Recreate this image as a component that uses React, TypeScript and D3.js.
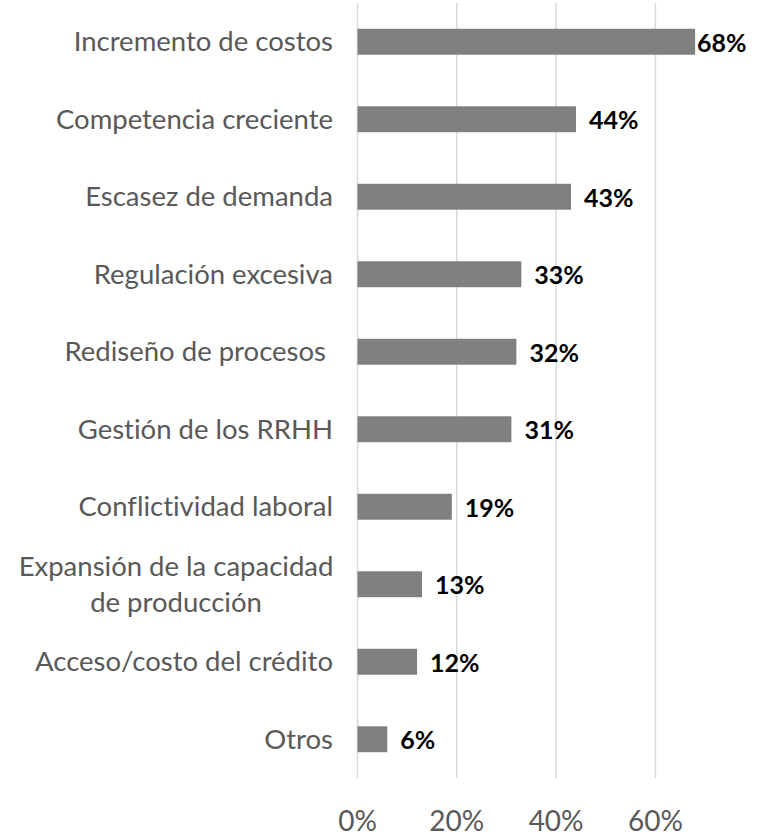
import React from "react";
import * as d3 from "d3";

const categories = [
  "Incremento de costos",
  "Competencia creciente",
  "Escasez de demanda",
  "Regulación excesiva",
  "Rediseño de procesos ",
  "Gestión de los RRHH",
  "Conflictividad laboral",
  "Expansión de la capacidad\nde producción",
  "Acceso/costo del crédito",
  "Otros",
];
const values = [0.68, 0.44, 0.43, 0.33, 0.32, 0.31, 0.19, 0.13, 0.12, 0.06];
const tickValues = [0, 0.2, 0.4, 0.6];

const W = 768;
const H = 837;
const plotLeft = 357.5;
const plotTop = 3;
const plotBottom = 778;
const labelRight = 748;

export default function App() {
  const x = d3.scaleLinear().domain([0, 0.2]).range([plotLeft, plotLeft + 99.3]);
  const y = d3
    .scaleBand<number>()
    .domain(d3.range(categories.length))
    .range([plotTop, plotBottom])
    .paddingInner(0.665)
    .paddingOuter(0.3325);
  const fmt = d3.format(".0%");
  const font = "Lato, 'Open Sans', sans-serif";

  return (
    <svg
      width={W}
      height={H}
      style={{
        position: "absolute",
        left: 0,
        top: 0,
        background: "#fff",
        fontVariantLigatures: "none",
      }}
      fontFamily={font}
    >
      {tickValues.map((t) => (
        <line
          key={"g" + t}
          x1={x(t)}
          x2={x(t)}
          y1={plotTop}
          y2={plotBottom}
          stroke="#d9d9d9"
          strokeWidth={1.5}
        />
      ))}
      {values.map((v, i) => (
        <rect
          key={"b" + i}
          x={x(0)}
          y={y(i)}
          width={x(v) - x(0)}
          height={y.bandwidth()}
          fill="#808080"
        />
      ))}
      {values.map((v, i) => {
        const cy = (y(i) as number) + y.bandwidth() / 2;
        const lx = Math.min(x(v) + 13, labelRight - 51);
        return (
          <text
            key={"v" + i}
            x={lx}
            y={cy}
            dominantBaseline="central"
            fontWeight="bold"
            fontSize={25}
            fill="#000"
          >
            {fmt(v)}
          </text>
        );
      })}
      {categories.map((c, i) => {
        const cy = (y(i) as number) + y.bandwidth() / 2;
        const lines = c.split("\n");
        const lh = 36;
        return (
          <text
            key={"c" + i}
            textAnchor={lines.length > 1 ? "middle" : "end"}
            fontSize={27.5}
            fill="#595959"
            style={{ whiteSpace: "pre" }}
          >
            {lines.map((ln, j) => (
              <tspan
                key={j}
                x={lines.length > 1 ? 176 : 333}
                y={cy + (j - (lines.length - 1) / 2) * lh - 1}
                dominantBaseline="central"
              >
                {ln}
              </tspan>
            ))}
          </text>
        );
      })}
      {tickValues.map((t) => (
        <text
          key={"t" + t}
          x={x(t)}
          y={820}
          textAnchor="middle"
          dominantBaseline="central"
          fontSize={28}
          fill="#595959"
        >
          {fmt(t)}
        </text>
      ))}
    </svg>
  );
}
